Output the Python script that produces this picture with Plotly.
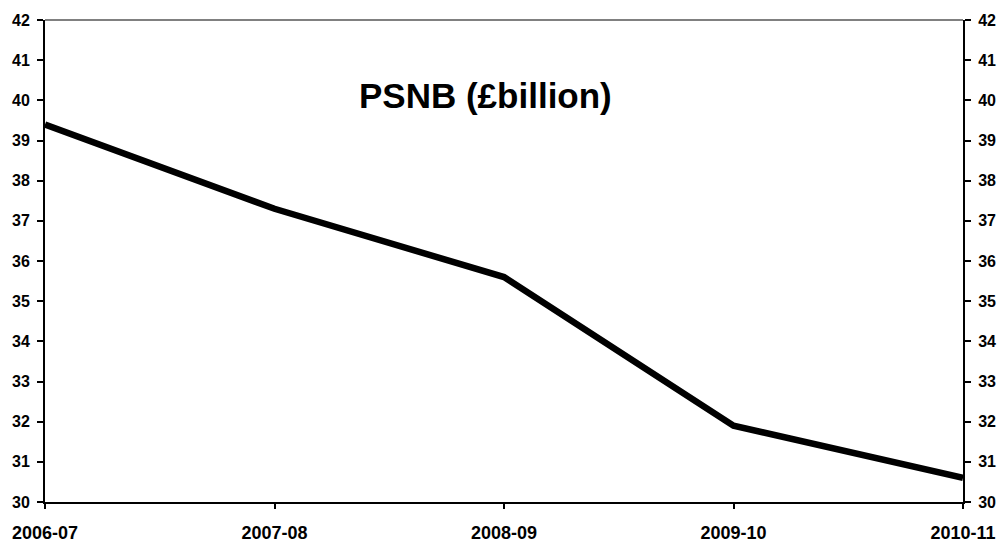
import plotly.graph_objects as go

categories = ["2006-07", "2007-08", "2008-09", "2009-10", "2010-11"]
psnb = [39.4, 37.3, 35.6, 31.9, 30.6]
y_ticks = list(range(30, 43))

fig = go.Figure()
fig.add_trace(go.Scatter(x=list(range(len(categories))), y=psnb, mode="lines",
                         line=dict(color="black", width=6.5), hoverinfo="skip",
                         showlegend=False))
fig.add_trace(go.Scatter(x=list(range(len(categories))), y=psnb, mode="lines",
                         line=dict(color="rgba(0,0,0,0)", width=0), yaxis="y2",
                         hoverinfo="skip", showlegend=False))

yfont = dict(family="Liberation Sans, Arial", size=16, color="black")
xfont = dict(family="Liberation Sans, Arial", size=18, color="black")
fig.update_layout(
    width=1005, height=544,
    margin=dict(l=45, r=42, t=20, b=42, autoexpand=False),
    plot_bgcolor="white", paper_bgcolor="white",
    xaxis=dict(range=[0, len(categories) - 1], tickvals=list(range(len(categories))),
               ticktext=[f"<b>{c}</b>" for c in categories], showgrid=False,
               zeroline=False, showline=True, linecolor="black", linewidth=1.5,
               ticks="outside", ticklen=5, tickcolor="black", tickwidth=1.5,
               tickfont=xfont, automargin=False, ticklabelstandoff=9),
    yaxis=dict(range=[30, 42], tickvals=y_ticks,
               ticktext=[f"<b>{v}</b>" for v in y_ticks], showgrid=False,
               zeroline=False, showline=True, linecolor="black", linewidth=2,
               ticks="outside", ticklen=6, tickcolor="black", tickwidth=1.5,
               tickfont=yfont, automargin=False, ticklabelstandoff=4),
    yaxis2=dict(range=[30, 42], tickvals=y_ticks,
                ticktext=[f"<b>{v}</b>" for v in y_ticks], overlaying="y",
                side="right", showgrid=False, zeroline=False, showline=True,
                linecolor="black", linewidth=2, ticks="outside", ticklen=6,
                tickcolor="black", tickwidth=1.5, tickfont=yfont,
                automargin=False, ticklabelstandoff=4),
    shapes=[dict(type="line", xref="paper", yref="paper", x0=0, x1=1, y0=1, y1=1,
                 line=dict(color="#808080", width=2))],
    annotations=[dict(text="<b>PSNB (£billion)</b>", xref="paper", yref="paper",
                      x=0.48, y=0.844, xanchor="center", yanchor="middle",
                      showarrow=False,
                      font=dict(family="Liberation Sans, Arial", size=35, color="black"))],
)
fig.write_html("out.html", config={"displayModeBar": False},
               post_script="document.body.style.margin='0';document.body.style.padding='0';")
